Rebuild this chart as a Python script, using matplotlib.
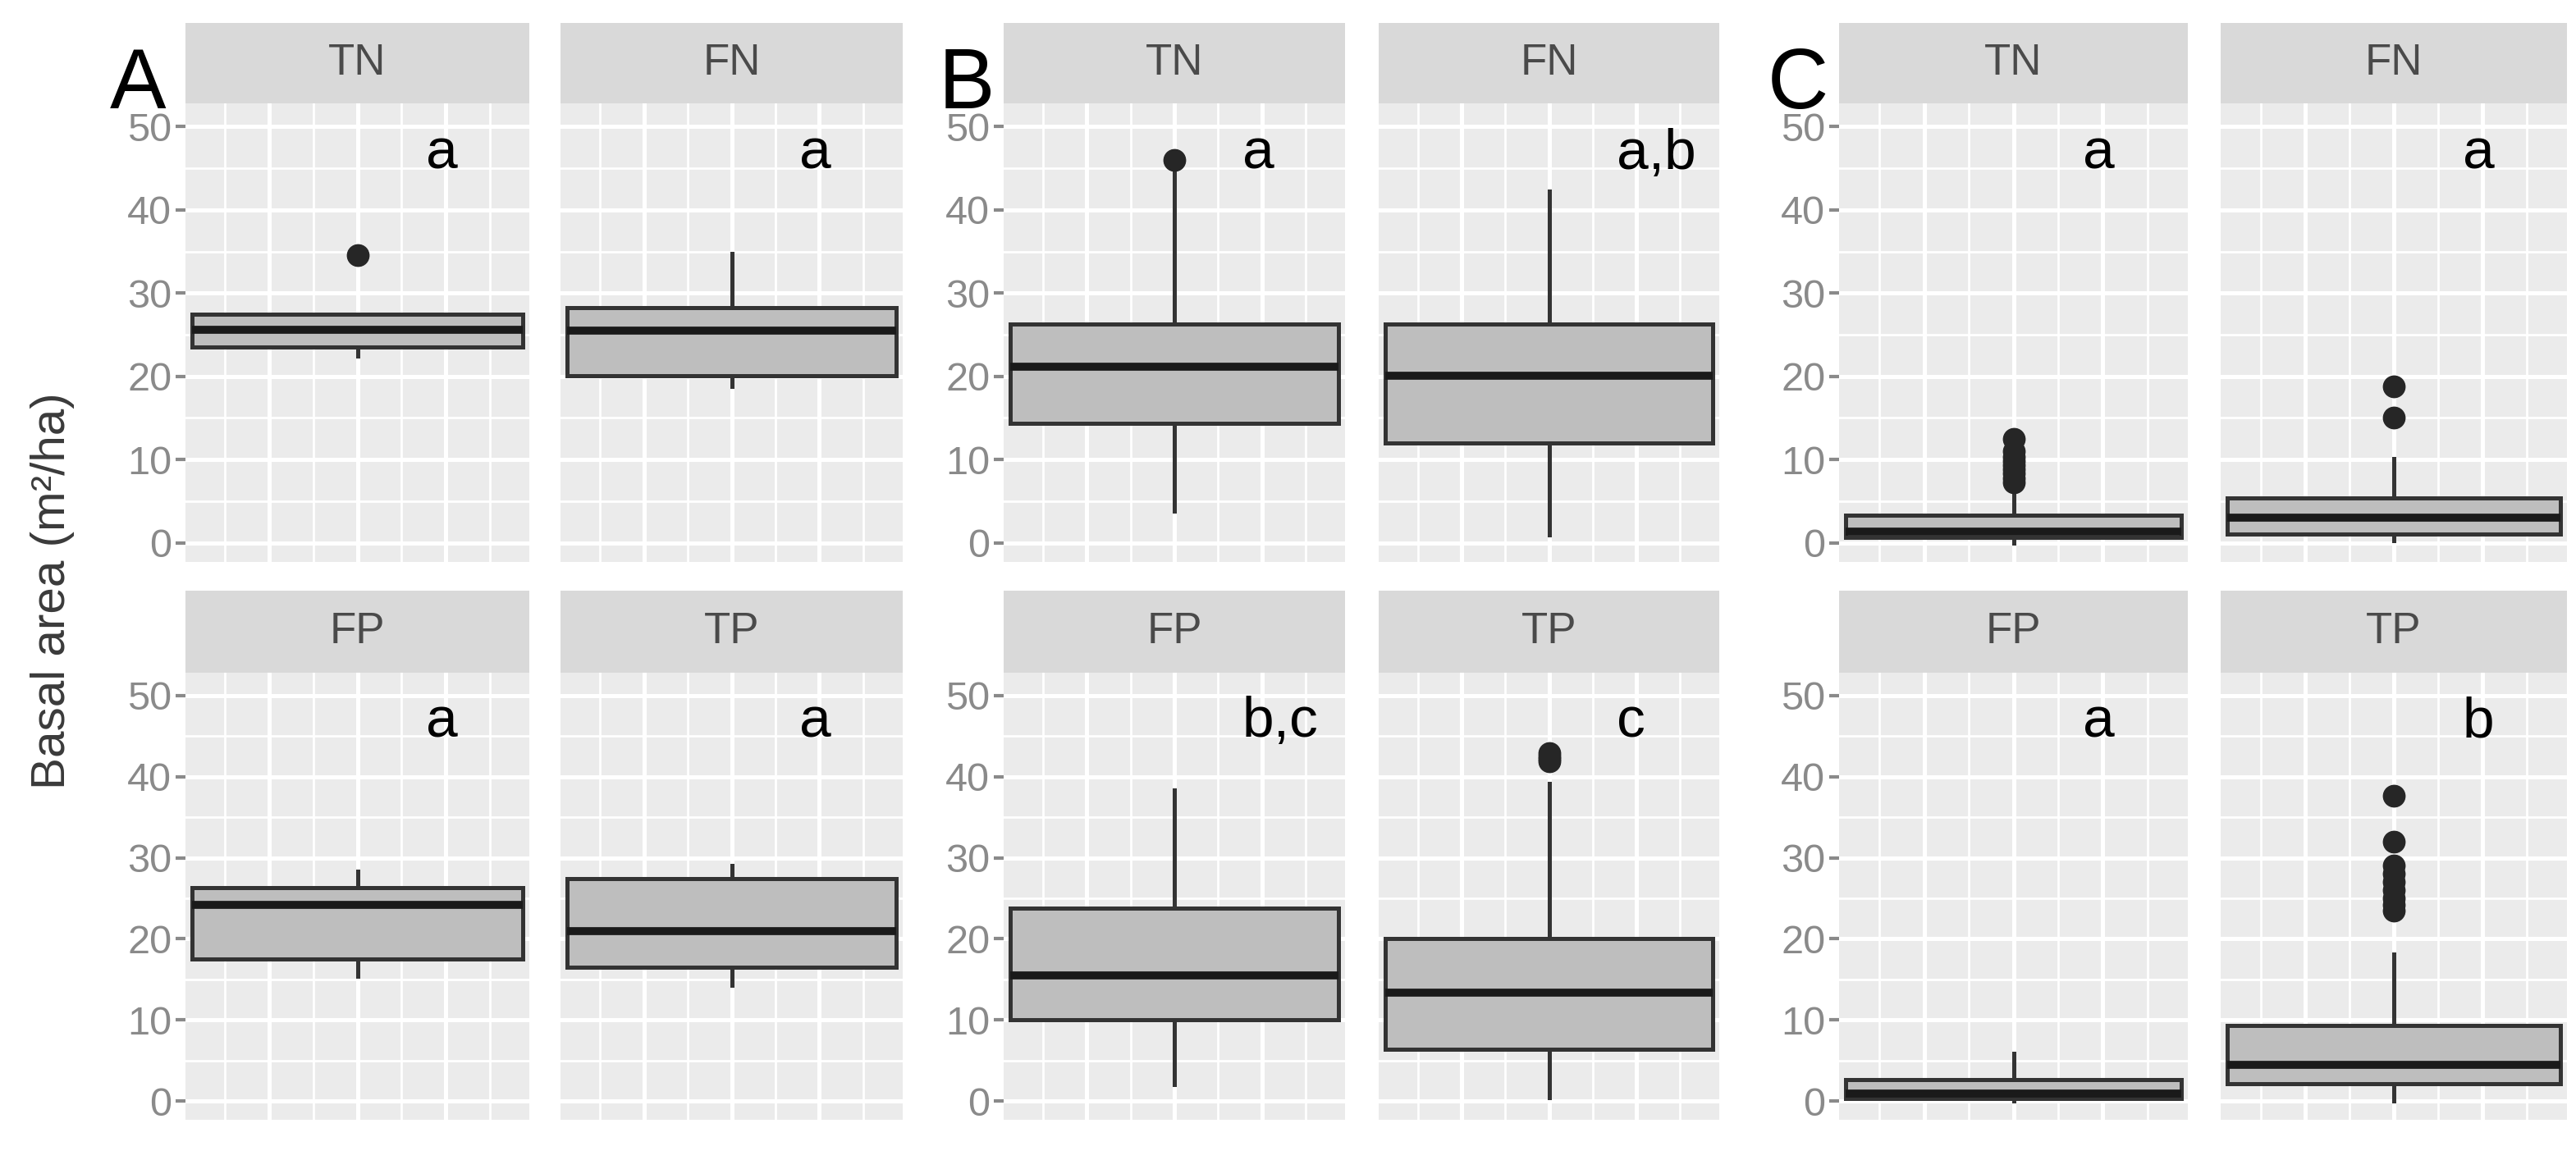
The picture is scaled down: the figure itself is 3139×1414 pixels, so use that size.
import matplotlib
matplotlib.use("Agg")
import matplotlib.pyplot as plt

plt.rcParams['font.family'] = ['Liberation Sans', 'DejaVu Sans']

# ---- data ----
groups = ['A', 'B', 'C']
categories = ['TN', 'FN', 'FP', 'TP']

A_med = [25.6, 25.5, 24.2, 21.0]
A_q1 = [23.5, 20.1, 17.5, 16.5]
A_q3 = [27.5, 28.3, 26.3, 27.4]
A_lo = [22.4, 18.8, 15.4, 14.3]
A_hi = [27.5, 34.8, 28.3, 29.0]
A_out = [[34.6], [], [], []]
A_letters = ['a', 'a', 'a', 'a']

B_med = [21.2, 20.1, 15.5, 13.4]
B_q1 = [14.4, 12.0, 10.0, 6.4]
B_q3 = [26.3, 26.3, 23.8, 20.0]
B_lo = [3.8, 1.0, 2.0, 0.4]
B_hi = [44.8, 42.3, 38.3, 39.2]
B_out = [[46.0], [], [], [41.9, 42.2, 42.5, 42.9]]
B_letters = ['a', 'a,b', 'b,c', 'c']

C_med = [1.3, 3.0, 0.9, 4.5]
C_q1 = [0.7, 1.1, 0.3, 2.1]
C_q3 = [3.3, 5.4, 2.7, 9.3]
C_lo = [0.0, 0.3, 0.0, 0.0]
C_hi = [6.3, 10.1, 5.9, 18.1]
C_out = [[7.3, 7.8, 8.3, 8.8, 9.3, 9.8, 10.3, 11.0, 12.5],
         [15.0, 18.8],
         [],
         [23.5, 24.2, 25.0, 26.0, 27.0, 28.0, 29.0, 32.0, 37.6]]
C_letters = ['a', 'a', 'a', 'b']

data = {
    'A': (A_med, A_q1, A_q3, A_lo, A_hi, A_out, A_letters),
    'B': (B_med, B_q1, B_q3, B_lo, B_hi, B_out, B_letters),
    'C': (C_med, C_q1, C_q3, C_lo, C_hi, C_out, C_letters),
}

# ---- layout (pixels) ----
W, H = 3139, 1414
fig = plt.figure(figsize=(W / 100, H / 100), dpi=100)

cols = {'A': [(226, 645), (683, 1100)],
        'B': [(1223, 1639), (1680, 2095)],
        'C': [(2241, 2666), (2706, 3128)]}
rows = [(28, 126, 685), (720, 820, 1365)]
label_x = {'A': 134, 'B': 1144, 'C': 2154}

edge = '#333333'
tick_grey = '#8a8a8a'


def px_axes(x0, x1, y0, y1):
    return fig.add_axes([x0 / W, 1 - y1 / H, (x1 - x0) / W, (y1 - y0) / H])


for g in groups:
    med, q1, q3, lo, hi, out, letters = data[g]
    for k, cat in enumerate(categories):
        r, c = divmod(k, 2)
        x0, x1 = cols[g][c]
        s0, s1, p1 = rows[r]

        # strip
        sax = px_axes(x0, x1, s0, s1)
        sax.set_facecolor('#D9D9D9')
        sax.set_xticks([])
        sax.set_yticks([])
        for sp in sax.spines.values():
            sp.set_visible(False)
        sax.text(0.5, 0.5, cat, ha='center', va='center', fontsize=38,
                 color='#4a4a4a', transform=sax.transAxes)

        # panel
        ax = px_axes(x0, x1, s1, p1)
        ax.set_facecolor('#EBEBEB')
        ax.set_axisbelow(True)
        stats = [dict(med=med[k], q1=q1[k], q3=q3[k], whislo=lo[k],
                      whishi=hi[k], fliers=out[k])]
        ax.bxp(stats, positions=[0], widths=0.75, patch_artist=True,
               showcaps=False,
               boxprops=dict(facecolor='#BEBEBE', edgecolor=edge, linewidth=3.6),
               medianprops=dict(color='#1a1a1a', linewidth=7),
               whiskerprops=dict(color=edge, linewidth=3.6),
               flierprops=dict(marker='o', markersize=19, markerfacecolor='#262626',
                               markeredgecolor='#262626'))
        ax.set_xlim(-0.39, 0.39)
        ax.set_ylim(-2.3, 52.8)
        ax.set_xticks([-0.2, 0, 0.2])
        ax.set_xticks([-0.3, -0.1, 0.1, 0.3], minor=True)
        ax.set_yticks(range(0, 51, 10))
        ax.set_yticks(range(5, 50, 10), minor=True)
        ax.grid(which='major', color='white', linewidth=3.6)
        ax.grid(which='minor', color='white', linewidth=2.0)
        ax.tick_params(axis='x', which='both', length=0, labelbottom=False)
        ax.tick_params(axis='y', which='minor', length=0)
        if c == 0:
            ax.tick_params(axis='y', which='major', length=9, width=3,
                           color=tick_grey, labelsize=35, labelcolor=tick_grey, pad=3)
        else:
            ax.tick_params(axis='y', which='major', length=0, labelleft=False)
        for sp in ax.spines.values():
            sp.set_visible(False)

        ax.text(0.155, 46.7, letters[k], ha='left', va='center', fontsize=50,
                color='black')

    fig.text(label_x[g] / W, 1 - 132 / H, g, fontsize=74, ha='left',
             va='baseline', color='black')

fig.text(64 / W, 1 - 720 / H, 'Basal area (m²/ha)', rotation=90, ha='center',
         va='center', fontsize=42, color='#3a3a3a')

fig.savefig('out.png', dpi=100, facecolor='white')
